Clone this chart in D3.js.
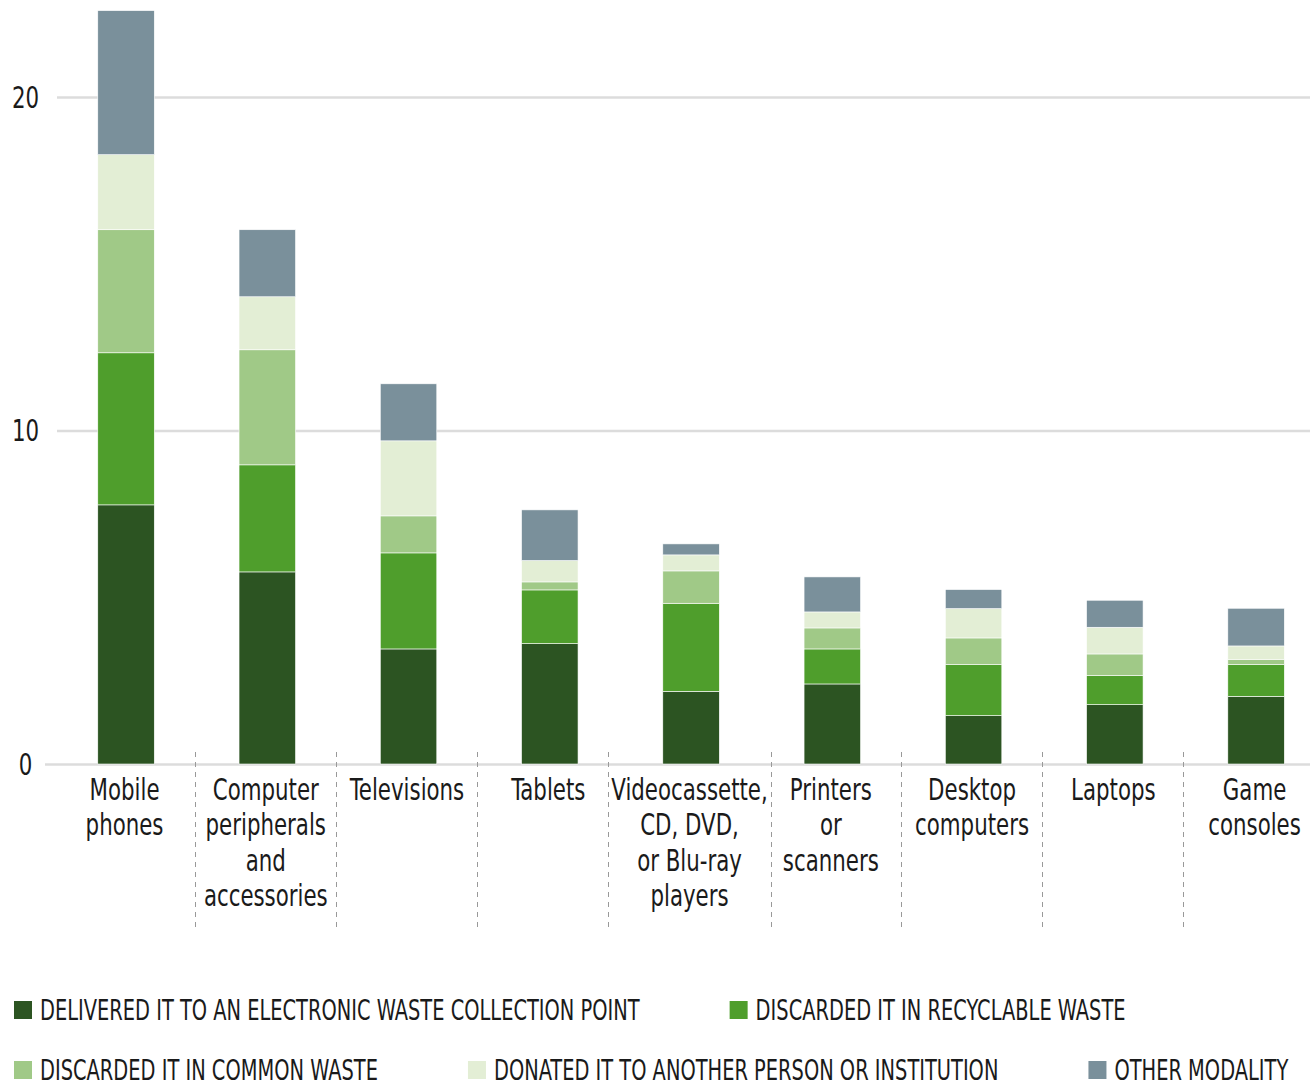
<!DOCTYPE html>
<head>
  <meta charset="utf-8">
  <style>
    body { margin: 0; background: #fff; }
    svg text {
      font-family: "DejaVu Sans Condensed", "DejaVu Sans", sans-serif;
      fill: #1a1a1a;
    }
    svg .grid { stroke: #dcdcdc; stroke-width: 2.5px; }
    svg .sep { stroke: #999; stroke-width: 1px; stroke-dasharray: 5 5; }
  </style>
</head>

<body>
<script src="https://d3js.org/d3.v7.min.js"></script>

<script>
  // categories and their label lines
  var categories = ["Mobile phones", "Computer peripherals and accessories", "Televisions", "Tablets",
    "Videocassette, CD, DVD, or Blu-ray players", "Printers or scanners", "Desktop computers", "Laptops", "Game consoles"];
  var labelLines = [
    ["Mobile", "phones"],
    ["Computer", "peripherals", "and", "accessories"],
    ["Televisions"],
    ["Tablets"],
    ["Videocassette,", "CD, DVD,", "or Blu-ray", "players"],
    ["Printers", "or", "scanners"],
    ["Desktop", "computers"],
    ["Laptops"],
    ["Game", "consoles"]
  ];

  var seriesNames = [
    "DELIVERED IT TO AN ELECTRONIC WASTE COLLECTION POINT",
    "DISCARDED IT IN RECYCLABLE WASTE",
    "DISCARDED IT IN COMMON WASTE",
    "DONATED IT TO ANOTHER PERSON OR INSTITUTION",
    "OTHER MODALITY"
  ];
  var seriesColors = ["#2c5422", "#4f9e2c", "#a0c987", "#e3eed5", "#7a909b"];

  // values per series (same order as categories)
  var delivered  = [7.77, 5.76, 3.45, 3.61, 2.18, 2.40, 1.45, 1.78, 2.03];
  var recyclable = [4.56, 3.21, 2.88, 1.61, 2.64, 1.05, 1.53, 0.88, 0.95];
  var common     = [3.69, 3.45, 1.11, 0.24, 0.97, 0.63, 0.80, 0.64, 0.16];
  var donated    = [2.25, 1.59, 2.25, 0.64, 0.48, 0.48, 0.88, 0.80, 0.40];
  var other      = [4.32, 2.01, 1.71, 1.52, 0.33, 1.05, 0.57, 0.81, 1.13];

  var yTicks = [0, 10, 20];

  var seriesValues = [delivered, recyclable, common, donated, other];
  var rows = categories.map(function (c, i) {
    var r = { cat: c };
    seriesNames.forEach(function (s, k) { r[s] = seriesValues[k][i]; });
    return r;
  });
  var stacked = d3.stack().keys(seriesNames)(rows);

  var W = 1316, H = 1086;
  var sx = 0.765;   // squeeze text horizontally, the original face is condensed

  var svg = d3.select("body").append("svg")
      .attr("width", W)
      .attr("height", H);

  var x = d3.scaleBand().domain(categories).range([55.4, 1326.7])
      .paddingInner(0.6).paddingOuter(0.3);
  var y = d3.scaleLinear().domain([0, 20]).range([764, 97]);

  // grid lines
  svg.append("g").selectAll("line")
    .data(yTicks)
    .join("line")
      .classed("grid", true)
      .attr("x1", function (d) { return d === 0 ? 45 : 57; })
      .attr("x2", 1310)
      .attr("y1", function (d) { return y(d) + 0.5; })
      .attr("y2", function (d) { return y(d) + 0.5; });

  // y tick labels
  svg.append("g").selectAll("text")
    .data(yTicks)
    .join("text")
      .attr("transform", "scale(" + sx + ",1)")
      .attr("x", 25.5 / sx)
      .attr("y", function (d) { return y(d) + 11; })
      .style("text-anchor", "middle")
      .style("font-size", "31px")
      .text(function (d) { return d; });

  // bars
  svg.append("g").selectAll("g")
    .data(stacked)
    .join("g")
      .attr("fill", function (d, k) { return seriesColors[k]; })
    .selectAll("rect")
    .data(function (d) { return d; })
    .join("rect")
      .attr("x", function (d) { return x(d.data.cat); })
      .attr("width", x.bandwidth())
      .attr("y", function (d) { return y(d[1]); })
      .attr("height", function (d) { return y(d[0]) - y(d[1]); })
      .attr("stroke", "#fff")
      .attr("stroke-width", 0.6);

  // category labels
  var cx = function (c) { return (x(c) + x.bandwidth() / 2 - 1.5) / sx; };
  var labels = svg.append("g").selectAll("text")
    .data(categories)
    .join("text")
      .attr("transform", "scale(" + sx + ",1)")
      .attr("x", cx)
      .attr("y", 800)
      .style("text-anchor", "middle")
      .style("font-size", "31px");
  labels.selectAll("tspan")
    .data(function (d, i) { return labelLines[i]; })
    .join("tspan")
      .attr("x", function () { return cx(this.parentNode.__data__); })
      .attr("dy", function (d, j) { return j === 0 ? 0 : 35.3; })
      .text(function (d) { return d; });

  // dashed separators: midway between bands, pushed clear of labels
  var boxes = labels.nodes().map(function (n) { return n.getBoundingClientRect(); });
  var seps = d3.range(1, categories.length).map(function (i) {
    var mid = (x(categories[i - 1]) + x(categories[i]) + x.bandwidth()) / 2 - 2;
    var leftEdge = boxes[i].left, rightEdge = boxes[i - 1].right;
    if (mid > leftEdge - 3) mid = leftEdge - 3;
    if (mid < rightEdge + 3) mid = rightEdge + 3;
    return mid;
  });
  svg.append("g").selectAll("line")
    .data(seps)
    .join("line")
      .classed("sep", true)
      .attr("x1", function (d) { return Math.round(d) + 0.5; })
      .attr("x2", function (d) { return Math.round(d) + 0.5; })
      .attr("y1", 752)
      .attr("y2", 928);

  // legend, flowing left to right and wrapping
  var legend = svg.append("g");
  var lx = 14, ly = 1010, gap = 90, sw = 18, lsx = 0.785;
  seriesNames.forEach(function (name, k) {
    var g = legend.append("g");
    g.append("rect")
      .attr("width", sw).attr("height", sw)
      .attr("y", -sw / 2)
      .attr("fill", seriesColors[k]);
    var t = g.append("text")
      .attr("transform", "scale(" + lsx + ",1)")
      .attr("x", 26 / lsx)
      .attr("y", 10)
      .style("font-size", "27.5px")
      .text(name);
    var w = 26 + t.node().getComputedTextLength() * lsx;
    if (lx + w > W && lx > 14) { lx = 14; ly += 60; }
    g.attr("transform", "translate(" + lx + "," + ly + ")");
    lx += w + gap;
  });
</script>
</body>
</html>
